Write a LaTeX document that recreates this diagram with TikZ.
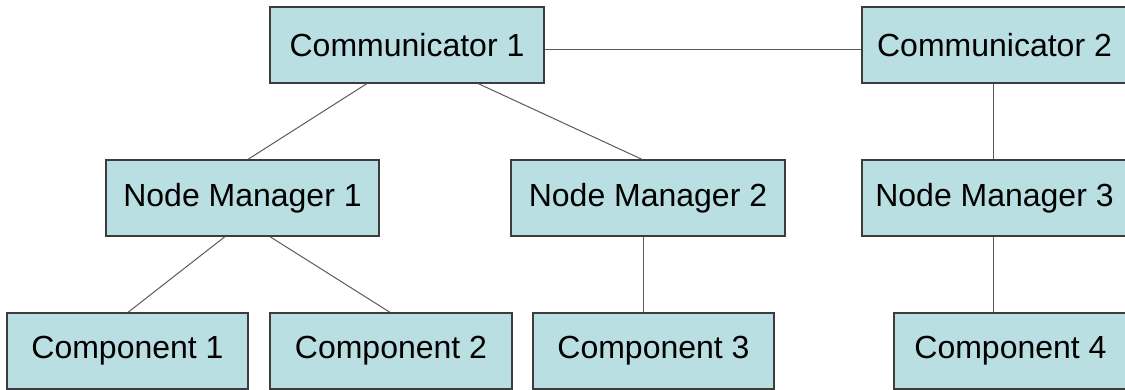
\documentclass[tikz,border=0pt]{standalone}
\usepackage{fontspec}
\setmainfont{Liberation Sans}
\usetikzlibrary{calc}
\definecolor{boxfill}{RGB}{185,223,227}
\definecolor{boxline}{RGB}{60,60,60}
\definecolor{conn}{RGB}{90,90,90}
\begin{document}
\begin{tikzpicture}[x=1pt,y=1pt,
  box/.style={draw=boxline,line width=1.3pt,fill=boxfill,minimum height=76pt,inner sep=0pt,
    font=\fontsize{32}{38}\selectfont},
  link/.style={draw=conn,line width=1pt}]
\useasboundingbox (0,0) rectangle (1125,390);
\clip (0,0) rectangle (1125,390);
\node[box,minimum width=274pt] (c1) at (407,345) {Communicator 1};
\node[box,minimum width=265pt] (c2) at (994.5,345) {Communicator 2};
\node[box,minimum width=273pt] (n1) at (242.5,192) {Node Manager 1};
\node[box,minimum width=274pt] (n2) at (648,192) {Node Manager 2};
\node[box,minimum width=265pt] (n3) at (994.5,192) {Node Manager 3};
\node[box,minimum width=241pt] (p1) at (127.5,39) {Component 1};
\node[box,minimum width=242pt] (p2) at (391,39) {Component 2};
\node[box,minimum width=241pt] (p3) at (653.5,39) {Component 3};
\node[box,minimum width=233pt] (p4) at (1010.5,39) {Component 4};
\draw[link] ($(c1.east)+(0,-5)$) -- ($(c2.west)+(0,-5)$);
\draw[link] ($(c1.south west)!0.354!(c1.south east)$) -- ($(n1.north west)!0.52!(n1.north east)$);
\draw[link] ($(c1.south west)!0.759!(c1.south east)$) -- ($(n2.north west)!0.478!(n2.north east)$);
\draw[link] (c2.south -| 993,0) -- (n3.north -| 993,0);
\draw[link] ($(n1.south west)!0.436!(n1.south east)$) -- ($(p1.north west)!0.502!(p1.north east)$);
\draw[link] ($(n1.south west)!0.60!(n1.south east)$) -- ($(p2.north west)!0.496!(p2.north east)$);
\draw[link] (n2.south -| 643,0) -- (p3.north -| 643,0);
\draw[link] (n3.south -| 993,0) -- (p4.north -| 993,0);
\end{tikzpicture}
\end{document}
